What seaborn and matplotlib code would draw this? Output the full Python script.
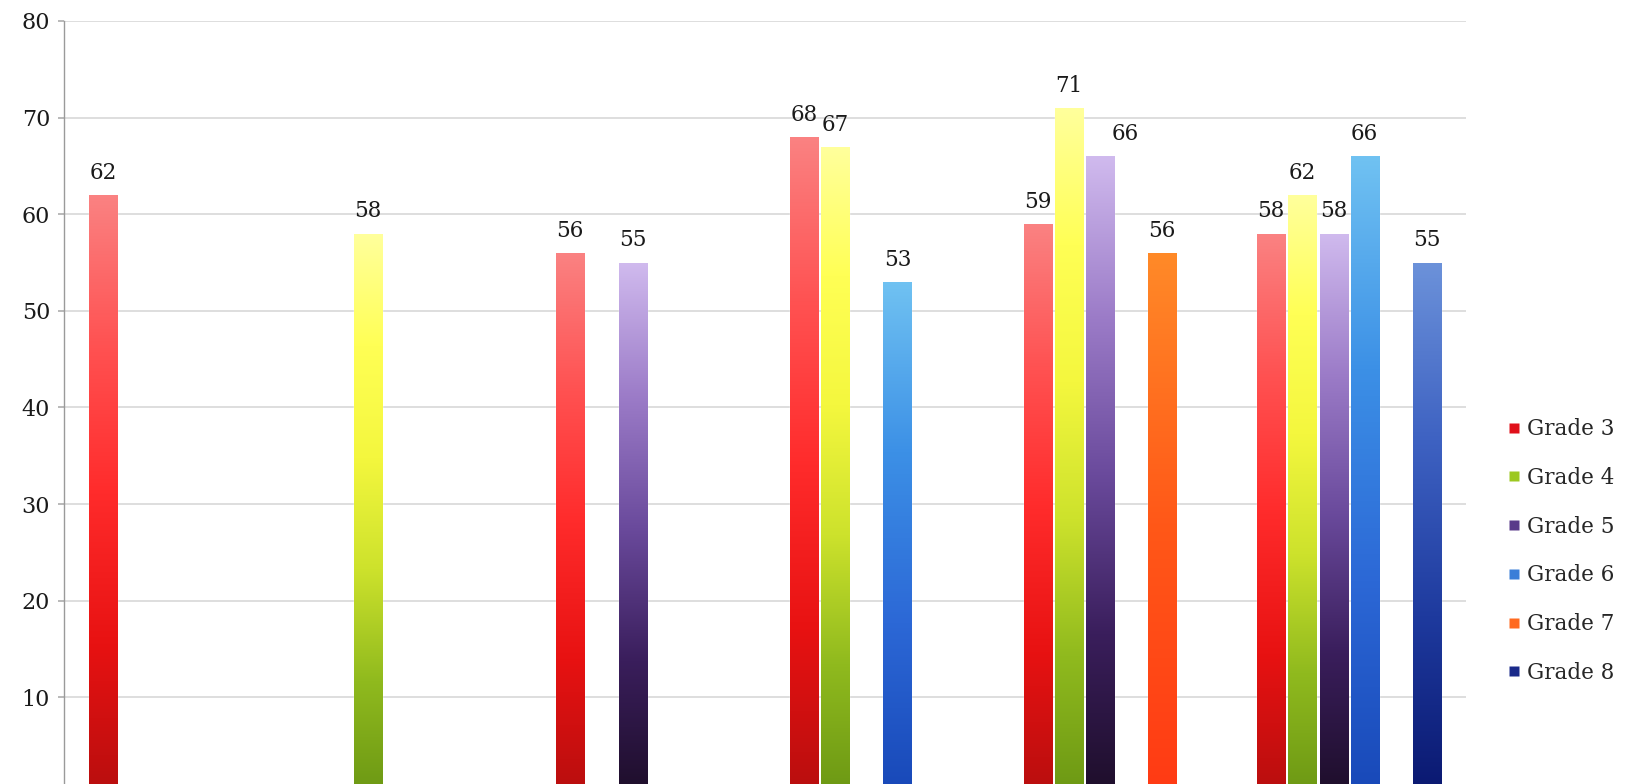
import numpy as np
import pandas as pd
import matplotlib
matplotlib.use("Agg")
import matplotlib.pyplot as plt
from matplotlib.colors import LinearSegmentedColormap
from matplotlib.lines import Line2D
import seaborn as sns

# ---- data -------------------------------------------------------------
groups = ["Set 1", "Set 2", "Set 3", "Set 4", "Set 5", "Set 6"]
grades = ["Grade 3", "Grade 4", "Grade 5", "Grade 6", "Grade 7", "Grade 8"]
nan = np.nan
grade3 = [62, nan, 56, 68, 59, 58]
grade4 = [nan, 58, nan, 67, 71, 62]
grade5 = [nan, nan, 55, nan, 66, 58]
grade6 = [nan, nan, nan, 53, nan, 66]
grade7 = [nan, nan, nan, nan, 56, nan]
grade8 = [nan, nan, nan, nan, nan, 55]
yticks = [0, 10, 20, 30, 40, 50, 60, 70, 80]

series = [grade3, grade4, grade5, grade6, grade7, grade8]
rows = []
for g, vals in zip(grades, series):
    for grp, v in zip(groups, vals):
        if not np.isnan(v):
            rows.append({"group": grp, "grade": g, "score": v})
df = pd.DataFrame(rows)

# ---- styling ----------------------------------------------------------
gradients = {
    "Grade 3": ["#B80E0E", "#E81212", "#FF2B2B", "#FF5252", "#FA8282"],
    "Grade 4": ["#6C9814", "#90BA1E", "#CDE22C", "#F4F73E", "#FFFF55", "#FFFF9C"],
    "Grade 5": ["#1E0E2A", "#3A1E5C", "#6A4A9C", "#9C7CC8", "#D0BAEE"],
    "Grade 6": ["#1848B8", "#2C68D6", "#3C90E6", "#70C2F2"],
    "Grade 7": ["#FF3A14", "#FF5818", "#FF8A28"],
    "Grade 8": ["#0A1870", "#1E3A9E", "#3E62C2", "#6C92DA"],
}
legend_colors = {
    "Grade 3": "#E0101A", "Grade 4": "#9CC820", "Grade 5": "#5A3A8A",
    "Grade 6": "#3A7ED8", "Grade 7": "#FF6A20", "Grade 8": "#1A2A8A",
}
palette = {g: gradients[g][len(gradients[g]) // 2] for g in grades}
label_shift = {("Grade 5", "Set 5"): (18, 0)}

sns.set_theme(style="white")
plt.rcParams["font.family"] = ["DejaVu Serif"]

fig = plt.figure(figsize=(16.28, 7.84), dpi=100)
ax = fig.add_axes([64 / 1628, -10 / 784, (1466 - 64) / 1628, (794 - 21) / 784])

sns.barplot(data=df, x="group", y="score", hue="grade", order=groups,
            hue_order=grades, palette=palette, gap=0.1, errorbar=None,
            saturation=1, ax=ax, legend=False, zorder=3)

ax.set_ylim(0, 80)
xlim = ax.get_xlim()

# vertical gradient fill on each bar
for container, grade in zip(ax.containers, grades):
    cmap = LinearSegmentedColormap.from_list(grade, gradients[grade])
    grad = np.linspace(0, 1, 256).reshape(-1, 1)
    for bar in container:
        h = bar.get_height()
        if not np.isfinite(h) or h <= 0:
            continue
        x0 = bar.get_x()
        x1 = x0 + bar.get_width()
        im = ax.imshow(grad, cmap=cmap, extent=[x0, x1, 0, h], origin="lower",
                       aspect="auto", zorder=4, interpolation="bilinear")
        im.set_clip_path(bar)

# value labels
for container, grade in zip(ax.containers, grades):
    vals = series[grades.index(grade)]
    present = [(grp, v) for grp, v in zip(groups, vals) if not np.isnan(v)]
    for bar, (grp, v) in zip(container, present):
        dx, dy = label_shift.get((grade, grp), (0, 0))
        ax.annotate(f"{v:.0f}", (bar.get_x() + bar.get_width() / 2, v),
                    xytext=(dx, 8 + dy), textcoords="offset points",
                    ha="center", va="bottom", fontsize=15.5, color="#1A1A1A",
                    zorder=6)

ax.set_xlim(xlim)
ax.set_ylim(0, 80)
ax.set_yticks(yticks)
ax.set_yticklabels([str(t) for t in yticks], fontsize=16, color="#1A1A1A")
ax.set_xticks([])
ax.set_xlabel("")
ax.set_ylabel("")
ax.yaxis.grid(True, color="#D4D4D4", linewidth=1.1, zorder=0)
ax.set_axisbelow(True)
for side in ["top", "right", "bottom"]:
    ax.spines[side].set_visible(False)
ax.spines["left"].set_color("#9A9A9A")
ax.spines["left"].set_linewidth(1.0)
ax.tick_params(axis="y", which="major", left=True, length=4, color="#B0B0B0",
               pad=6)

handles = [Line2D([0], [0], marker="s", linestyle="none", markersize=7,
                  markerfacecolor=legend_colors[g], markeredgecolor="none")
           for g in grades]
fig.legend(handles, grades, loc="center left",
           bbox_to_anchor=(1508 / 1628, 1 - 551 / 784), frameon=False,
           fontsize=15.5, handlelength=0.6, handletextpad=0.3,
           labelspacing=1.24, borderpad=0, borderaxespad=0)

fig.savefig("out.png", dpi=100, facecolor="white")
